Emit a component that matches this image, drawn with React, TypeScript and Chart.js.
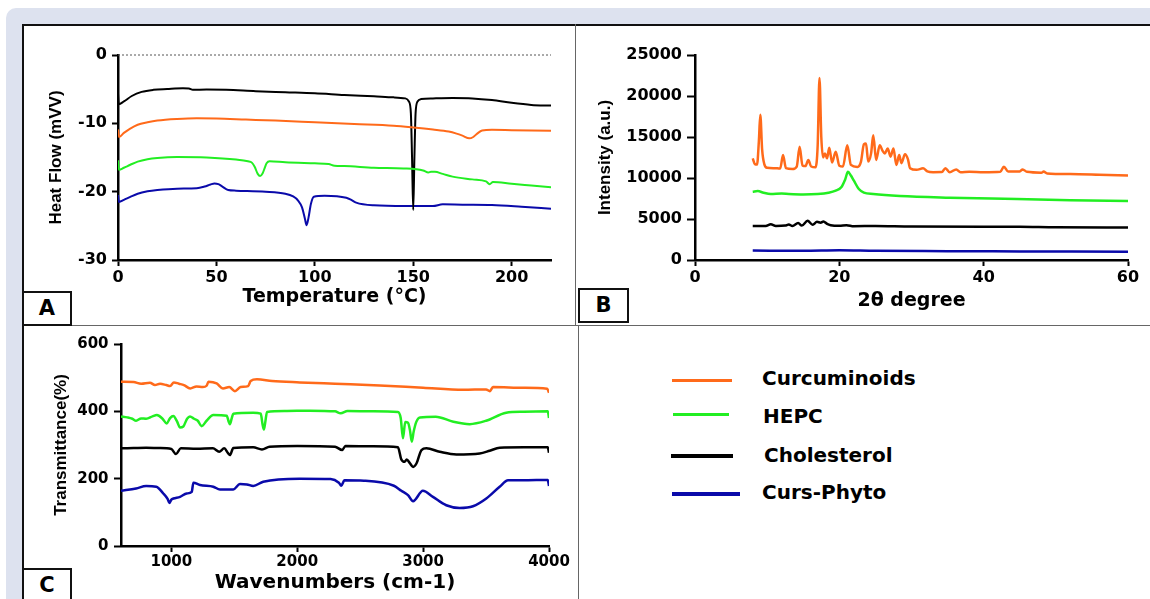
import React, { useEffect, useRef } from 'react';
import Chart from 'chart.js/auto';

// ---------- series names and colours ----------
const SERIES_NAMES = ['Curcuminoids', 'HEPC', 'Cholesterol', 'Curs-Phyto'];
const SERIES_COLORS = ['#ff6a1a', '#22ee22', '#000000', '#0a0aaa'];

// ---------- Panel A: DSC thermograms (temperature °C vs heat flow mW) ----------
const DSC_TICKS_X = [0, 50, 100, 150, 200];
const DSC_TICKS_Y = [-30, -20, -10, 0];
const DSC_REF_T = [0, 220];
const DSC_REF = [0, 0];

const DSC_CURC_T = [0, 0.6, 3, 6, 10, 15, 20, 30, 40, 50, 65, 80, 100, 120, 140, 150, 160, 168, 172, 175, 178.5, 180.5, 182.5, 185, 190, 200, 210, 220];
const DSC_CURC = [-10.9, -12.0, -11.4, -10.8, -10.2, -9.85, -9.6, -9.37, -9.27, -9.3, -9.45, -9.6, -9.85, -10.1, -10.35, -10.6, -10.9, -11.2, -11.5, -11.8, -12.2, -12.0, -11.5, -11.05, -10.95, -11.0, -11.05, -11.1];

const DSC_HEPC_T = [0, 0.5, 3, 6, 10, 15, 20, 30, 45, 60, 66, 68, 69.5, 71, 72.2, 73.5, 74.7, 75.5, 77, 85, 100, 107, 110, 115, 130, 145, 155, 157.7, 159, 161, 165, 170, 180, 187, 188.8, 190.5, 200, 210, 220];
const DSC_HEPC = [-15.4, -16.8, -16.5, -16.1, -15.6, -15.25, -15.07, -14.93, -15.0, -15.3, -15.55, -15.75, -16.4, -17.4, -17.7, -17.3, -16.4, -15.85, -15.56, -15.7, -15.85, -15.95, -16.2, -16.25, -16.5, -16.6, -16.9, -17.2, -17.1, -17.1, -17.4, -17.8, -18.2, -18.5, -18.9, -18.6, -18.85, -19.1, -19.35];

const DSC_CHOL_T = [0, 0.4, 3, 7, 12, 18, 25, 33, 36, 38, 45, 55, 70, 85, 100, 115, 130, 140, 146, 147.8, 148.8, 149.4, 150, 150.6, 151.2, 152.2, 154, 160, 170, 180, 190, 200, 210, 220];
const DSC_CHOL = [-5.6, -7.2, -6.8, -6.0, -5.4, -5.1, -4.98, -4.88, -4.9, -5.1, -5.05, -5.1, -5.3, -5.45, -5.6, -5.85, -6.05, -6.2, -6.35, -6.8, -8.5, -15, -22.7, -15, -8.5, -6.8, -6.45, -6.35, -6.3, -6.35, -6.6, -7.0, -7.3, -7.4];

const DSC_CURS_T = [0, 0.5, 3, 6, 10, 15, 20, 30, 40, 44, 47, 49, 51, 53, 56, 60, 75, 85, 89, 91.5, 93.5, 95, 95.8, 96.8, 98, 99.5, 105, 116, 118.5, 121, 130, 146, 160, 165, 175, 190, 205, 220];
const DSC_CURS = [-20.5, -21.5, -21.2, -20.8, -20.3, -19.95, -19.76, -19.56, -19.5, -19.25, -18.95, -18.8, -18.9, -19.25, -19.76, -19.85, -20.0, -20.3, -20.7, -21.3, -22.3, -24.0, -24.9, -23.8, -21.8, -20.75, -20.6, -20.9, -21.2, -21.6, -22.0, -22.1, -22.1, -21.85, -21.9, -21.95, -22.2, -22.5];

// ---------- Panel B: XRD patterns (2θ vs intensity) ----------
const XRD_TICKS_X = [0, 20, 40, 60];
const XRD_TICKS_Y = [0, 5000, 10000, 15000, 20000, 25000];

const XRD_CURC_2T = [8.0, 8.3, 8.6, 8.85, 9.05, 9.3, 9.6, 10.0, 11.0, 11.8, 12.2, 12.6, 13.5, 14.1, 14.5, 14.9, 15.3, 15.7, 16.1, 16.7, 17.0, 17.25, 17.5, 17.75, 18.0, 18.3, 18.6, 19.0, 19.5, 20.0, 20.5, 21.1, 21.6, 22.5, 23.0, 23.4, 23.7, 24.0, 24.4, 24.7, 25.1, 25.6, 26.0, 26.3, 26.7, 27.1, 27.5, 27.9, 28.3, 28.6, 29.1, 29.5, 29.8, 30.7, 31.6, 32.2, 33.0, 34.2, 34.7, 35.3, 36.2, 36.8, 38, 40, 42.3, 42.8, 43.4, 45, 45.4, 46, 48, 48.3, 48.8, 52, 56, 60];
const XRD_CURC = [12400, 11700, 11650, 14500, 17700, 13500, 11700, 11250, 11200, 11150, 12800, 11200, 11100, 11400, 13800, 11500, 11450, 12200, 11400, 11300, 14000, 22200, 15000, 12500, 13000, 12400, 13700, 11900, 13200, 11500, 11400, 14000, 11600, 11350, 12000, 14100, 14200, 12000, 13000, 15200, 12200, 14000, 13300, 13000, 13600, 12600, 13600, 11600, 12800, 11800, 12900, 12300, 11200, 11000, 11180, 10800, 10700, 10720, 11200, 10700, 11050, 10700, 10750, 10700, 10750, 11380, 10780, 10800, 11050, 10750, 10650, 10780, 10550, 10480, 10400, 10300];

const XRD_HEPC_2T = [8, 8.7, 9.5, 10.5, 12, 13, 15, 17, 18.5, 19.5, 20.3, 20.8, 21.2, 21.6, 22.0, 22.7, 23.4, 24.7, 28.4, 35.3, 44.6, 52, 60];
const XRD_HEPC = [8330, 8400, 8200, 8050, 8100, 8050, 8000, 8050, 8200, 8450, 8900, 9800, 10750, 10300, 9700, 8650, 8220, 8050, 7800, 7600, 7440, 7300, 7200];

const XRD_CHOL_2T = [8, 9, 9.8, 10.5, 11.2, 12.5, 13, 13.5, 14.3, 14.8, 15.6, 16.3, 16.9, 17.4, 17.8, 18.3, 18.8, 20, 21, 22, 25, 30, 40, 45, 50, 60];
const XRD_CHOL = [4150, 4150, 4150, 4350, 4150, 4200, 4330, 4150, 4500, 4200, 4780, 4300, 4650, 4550, 4700, 4400, 4250, 4180, 4250, 4120, 4150, 4080, 4070, 4060, 3980, 3950];

const XRD_CURS_2T = [8, 15, 20, 25, 35, 45, 60];
const XRD_CURS = [1150, 1130, 1200, 1120, 1080, 1050, 1000];

// ---------- Panel C: FTIR spectra (wavenumber cm-1 vs transmittance %) ----------
const FTIR_TICKS_X = [1000, 2000, 3000, 4000];
const FTIR_TICKS_Y = [0, 200, 400, 600];

const FTIR_CURC_W = [600, 700, 760, 830, 870, 910, 960, 990, 1020, 1060, 1100, 1150, 1200, 1250, 1280, 1295, 1360, 1410, 1460, 1505, 1550, 1610, 1630, 1680, 1800, 2020, 2300, 2655, 3000, 3320, 3500, 3530, 3555, 3800, 3985, 4000];
const FTIR_CURC = [488, 487, 482, 485, 478, 482, 478, 475, 486, 482, 478, 468, 474, 472, 476, 488, 483, 468, 472, 460, 472, 475, 490, 495, 490, 486, 482, 477, 470, 464, 465, 460, 472, 470, 467, 455];

const FTIR_HEPC_W = [600, 650, 690, 720, 760, 800, 850, 885, 930, 963, 990, 1016, 1045, 1069, 1095, 1125, 1148, 1180, 1210, 1240, 1280, 1333, 1440, 1455, 1465, 1480, 1492, 1650, 1710, 1725, 1735, 1745, 1760, 1900, 2100, 2300, 2345, 2400, 2600, 2800, 2822, 2840, 2858, 2880, 2895, 2910, 2925, 2945, 2975, 3100, 3240, 3370, 3500, 3660, 3800, 3990, 4000];
const FTIR_HEPC = [385, 382, 378, 372, 379, 378, 385, 389, 378, 364, 380, 386, 370, 352, 355, 378, 385, 378, 372, 356, 372, 389, 387, 370, 362, 380, 393, 396, 393, 360, 346, 365, 398, 401, 402, 400, 394, 401, 400, 398, 380, 320, 368, 366, 345, 310, 340, 368, 382, 384, 369, 362, 372, 396, 399, 400, 380];

const FTIR_CHOL_W = [600, 700, 800, 900, 1000, 1037, 1075, 1200, 1330, 1380, 1420, 1450, 1465, 1492, 1650, 1720, 1780, 2000, 2300, 2357, 2383, 2600, 2800, 2827, 2853, 2870, 2893, 2920, 2947, 2987, 3026, 3132, 3264, 3450, 3529, 3608, 3800, 3990, 4000];
const FTIR_CHOL = [290, 291, 292, 291, 288, 273, 290, 289, 290, 280, 290, 276, 270, 291, 293, 287, 295, 297, 295, 285, 297, 296, 293, 257, 250, 257, 247, 235, 245, 285, 290, 280, 272, 275, 283, 292, 293, 293, 277];

const FTIR_CURS_W = [600, 720, 800, 880, 936, 970, 984, 1000, 1016, 1069, 1122, 1162, 1175, 1228, 1333, 1386, 1492, 1545, 1600, 1650, 1730, 2020, 2265, 2331, 2350, 2375, 2530, 2768, 2827, 2880, 2920, 2998, 3078, 3184, 3290, 3396, 3502, 3608, 3675, 3767, 3900, 3990, 4000];
const FTIR_CURS = [164, 171, 178, 176, 156, 140, 128, 138, 141, 146, 156, 161, 188, 181, 176, 168, 168, 184, 183, 178, 191, 200, 199, 188, 179, 195, 194, 179, 164, 151, 133, 164, 146, 121, 113, 118, 141, 176, 195, 195, 196, 196, 178];

// ---------- chart building ----------
type AxisCfg = {
  min: number;
  max: number;
  ticks: number[];
  title: string;
  titleFont: any;
  titlePad: any;
  size: number;
  tickLength: number;
  tickPad: number;
  tickSize: number;
};

type SeriesCfg = { name: string; color: string; xs: number[]; ys: number[]; dash?: number[]; width?: number; clip?: boolean };

type PanelCfg = {
  box: { left: number; top: number; width: number; height: number };
  padding: { top: number; right: number; bottom: number; left: number };
  x: AxisCfg;
  y: AxisCfg;
  lineWidth: number;
  series: SeriesCfg[];
};

const TICK_FONT = 'DejaVu Sans';
const X_TITLE_FONT = 'DejaVu Sans';
const Y_TITLE_FONT = 'Liberation Sans, Arial, sans-serif';

function axis(a: AxisCfg, horizontal: boolean) {
  return {
    type: 'linear',
    min: a.min,
    max: a.max,
    afterBuildTicks: (s: any) => {
      s.ticks = a.ticks.map((v) => ({ value: v }));
    },
    afterFit: (s: any) => {
      if (horizontal) s.height = a.size;
      else s.width = a.size;
    },
    grid: {
      display: true,
      drawOnChartArea: false,
      drawTicks: true,
      tickLength: a.tickLength,
      tickColor: '#000',
      tickWidth: 2,
    },
    border: { display: true, color: '#000', width: 2.5 },
    ticks: {
      color: '#000',
      padding: a.tickPad,
      autoSkip: false,
      maxRotation: 0,
      font: { family: TICK_FONT, weight: 'bold', size: a.tickSize },
      callback: (v: any) => String(v),
    },
    title: {
      display: true,
      text: a.title,
      color: '#000',
      font: a.titleFont,
      padding: a.titlePad,
    },
  };
}

function buildConfig(p: PanelCfg): any {
  return {
    type: 'line',
    data: {
      datasets: p.series.map((s) => {
        const ds: any = {
          label: s.name,
          data: s.xs.map((x, i) => ({ x, y: s.ys[i] })),
          borderColor: s.color,
          backgroundColor: s.color,
          borderWidth: s.width ?? p.lineWidth,
          borderDash: s.dash ?? [],
          pointRadius: 0,
          fill: false,
          cubicInterpolationMode: 'monotone',
          borderJoinStyle: 'round',
        };
        if (s.clip === false) ds.clip = false;
        return ds;
      }),
    },
    options: {
      responsive: false,
      maintainAspectRatio: false,
      animation: false,
      devicePixelRatio: 1,
      events: [],
      layout: { padding: p.padding },
      plugins: { legend: { display: false }, tooltip: { enabled: false } },
      scales: { x: axis(p.x, true), y: axis(p.y, false) },
    },
  };
}

function mainSeries(xs: number[][], ys: number[][]): SeriesCfg[] {
  return SERIES_NAMES.map((name, i) => ({ name, color: SERIES_COLORS[i], xs: xs[i], ys: ys[i] }));
}

const PANEL_A: PanelCfg = {
  box: { left: 22, top: 24, width: 553, height: 301 },
  padding: { top: 31, right: 24, bottom: 0, left: 0 },
  lineWidth: 2,
  x: {
    min: 0, max: 220, ticks: DSC_TICKS_X, title: 'Temperature (°C)',
    titleFont: { family: X_TITLE_FONT, weight: 'bold', size: 19 },
    titlePad: { top: 0, bottom: 17 }, size: 65, tickLength: 6, tickPad: 2, tickSize: 16,
  },
  y: {
    min: -30, max: 0, ticks: DSC_TICKS_Y, title: 'Heat Flow (mVV)',
    titleFont: { family: Y_TITLE_FONT, weight: 'bold', size: 17 },
    titlePad: { top: 24, bottom: 0 }, size: 96, tickLength: 6, tickPad: 5, tickSize: 16,
  },
  series: [
    ...mainSeries([DSC_CURC_T, DSC_HEPC_T, DSC_CHOL_T, DSC_CURS_T], [DSC_CURC, DSC_HEPC, DSC_CHOL, DSC_CURS]),
    { name: 'baseline', color: '#555', xs: DSC_REF_T, ys: DSC_REF, dash: [2, 2], width: 1, clip: false },
  ],
};

const PANEL_B: PanelCfg = {
  box: { left: 575, top: 24, width: 575, height: 301 },
  padding: { top: 31, right: 22, bottom: 0, left: 0 },
  lineWidth: 2.5,
  x: {
    min: 0, max: 60, ticks: XRD_TICKS_X, title: '2θ degree',
    titleFont: { family: X_TITLE_FONT, weight: 'bold', size: 19 },
    titlePad: { top: 0, bottom: 12.5 }, size: 65, tickLength: 6, tickPad: 2.5, tickSize: 16,
  },
  y: {
    min: 0, max: 25000, ticks: XRD_TICKS_Y, title: 'Intensity (a.u.)',
    titleFont: { family: Y_TITLE_FONT, weight: 'bold', size: 17 },
    titlePad: { top: 20, bottom: 0 }, size: 120, tickLength: 8, tickPad: 5, tickSize: 16,
  },
  series: mainSeries([XRD_CURC_2T, XRD_HEPC_2T, XRD_CHOL_2T, XRD_CURS_2T], [XRD_CURC, XRD_HEPC, XRD_CHOL, XRD_CURS]),
};

const PANEL_C: PanelCfg = {
  box: { left: 22, top: 325, width: 556, height: 274 },
  padding: { top: 19, right: 29, bottom: 0, left: 0 },
  lineWidth: 2.5,
  x: {
    min: 600, max: 4000, ticks: FTIR_TICKS_X, title: 'Wavenumbers (cm-1)',
    titleFont: { family: X_TITLE_FONT, weight: 'bold', size: 20 },
    titlePad: { top: 0, bottom: 4 }, size: 53, tickLength: 6, tickPad: 1.5, tickSize: 15,
  },
  y: {
    min: 0, max: 600, ticks: FTIR_TICKS_Y, title: 'Transmittance(%)',
    titleFont: { family: Y_TITLE_FONT, weight: 'bold', size: 17 },
    titlePad: { top: 29, bottom: 0 }, size: 99, tickLength: 7, tickPad: 5.5, tickSize: 15,
  },
  series: mainSeries([FTIR_CURC_W, FTIR_HEPC_W, FTIR_CHOL_W, FTIR_CURS_W], [FTIR_CURC, FTIR_HEPC, FTIR_CHOL, FTIR_CURS]),
};

function ChartPanel({ cfg }: { cfg: PanelCfg }) {
  const ref = useRef<HTMLCanvasElement>(null);
  useEffect(() => {
    if (!ref.current) return;
    const chart = new Chart(ref.current, buildConfig(cfg));
    return () => chart.destroy();
  }, [cfg]);
  const { left, top, width, height } = cfg.box;
  return (
    <canvas
      ref={ref}
      width={width}
      height={height}
      style={{ position: 'absolute', left, top, width, height }}
    />
  );
}

// ---------- page furniture ----------
const LEGEND_ROWS = [
  { lineLeft: 672, lineWidth: 60, lineY: 380.5, thick: 3, textLeft: 762, textY: 378 },
  { lineLeft: 673, lineWidth: 56, lineY: 414, thick: 3, textLeft: 763, textY: 416 },
  { lineLeft: 671, lineWidth: 62, lineY: 456, thick: 4, textLeft: 764, textY: 455 },
  { lineLeft: 672, lineWidth: 68, lineY: 494, thick: 4, textLeft: 762, textY: 492 },
];

const PANEL_TAGS = [
  { text: 'A', left: 22, top: 291, width: 50, height: 35 },
  { text: 'B', left: 578, top: 288, width: 51, height: 35 },
  { text: 'C', left: 22, top: 568, width: 50, height: 40 },
];

const boldFont = 'DejaVu Sans, Verdana, sans-serif';

export default function App() {
  return (
    <div
      style={{
        position: 'fixed',
        left: 0,
        top: 0,
        width: 1150,
        height: 599,
        overflow: 'hidden',
        background: '#fff',
      }}
    >
      <div
        style={{
          position: 'absolute',
          left: 6,
          top: 8,
          width: 1200,
          height: 700,
          background: '#dde2ef',
          borderRadius: 10,
        }}
      />
      <div
        style={{
          position: 'absolute',
          left: 22,
          top: 24,
          width: 1160,
          height: 620,
          background: '#fff',
          borderTop: '2px solid #111',
          borderLeft: '2px solid #111',
          boxSizing: 'border-box',
        }}
      />

      <ChartPanel cfg={PANEL_A} />
      <ChartPanel cfg={PANEL_B} />
      <ChartPanel cfg={PANEL_C} />

      {/* panel dividers */}
      <div style={{ position: 'absolute', left: 574.5, top: 24, width: 1.5, height: 301, background: '#666' }} />
      <div style={{ position: 'absolute', left: 22, top: 324.5, width: 1128, height: 1.5, background: '#666' }} />
      <div style={{ position: 'absolute', left: 577.5, top: 325, width: 1.5, height: 274, background: '#666' }} />

      {/* panel tags */}
      {PANEL_TAGS.map((t) => (
        <div
          key={t.text}
          style={{
            position: 'absolute',
            left: t.left,
            top: t.top,
            width: t.width,
            height: t.height,
            border: '2px solid #111',
            boxSizing: 'border-box',
            background: '#fff',
            fontFamily: boldFont,
            fontWeight: 'bold',
            fontSize: 21,
            lineHeight: '31px',
            textAlign: 'center',
            color: '#000',
          }}
        >
          {t.text}
        </div>
      ))}

      {/* legend */}
      {LEGEND_ROWS.map((r, i) => (
        <React.Fragment key={SERIES_NAMES[i]}>
          <div
            style={{
              position: 'absolute',
              left: r.lineLeft,
              top: r.lineY - r.thick / 2,
              width: r.lineWidth,
              height: r.thick,
              background: SERIES_COLORS[i],
            }}
          />
          <div
            style={{
              position: 'absolute',
              left: r.textLeft,
              top: r.textY - 12,
              height: 24,
              lineHeight: '24px',
              fontFamily: boldFont,
              fontWeight: 'bold',
              fontSize: 20,
              color: '#000',
              whiteSpace: 'nowrap',
            }}
          >
            {SERIES_NAMES[i]}
          </div>
        </React.Fragment>
      ))}
    </div>
  );
}
